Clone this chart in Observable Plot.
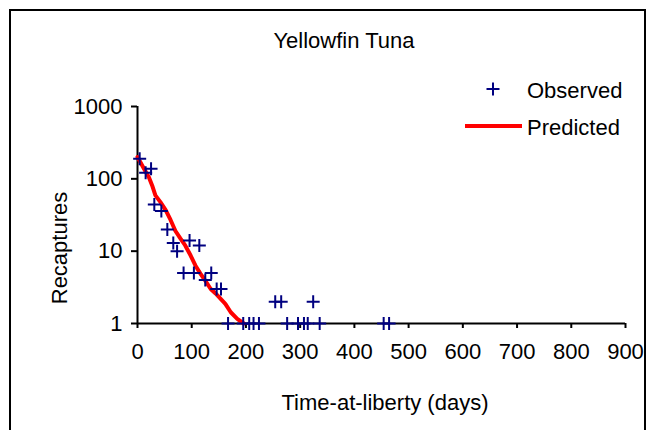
<!DOCTYPE html>
<html><head><meta charset="utf-8">
<script src="https://cdn.jsdelivr.net/npm/d3@7"></script>
<script src="https://cdn.jsdelivr.net/npm/@observablehq/plot@0.6"></script>
<style>
body{margin:0;background:#fff;}
#wrap{position:relative;width:647px;height:430px;overflow:hidden;}
#wrap svg{position:absolute;left:0;top:0;}
#frame{position:absolute;left:9px;top:9px;width:637px;height:440px;border:2px solid #000;box-sizing:border-box;pointer-events:none;}
</style></head><body>
<div id="wrap"><div id="frame"></div></div>
<script>
// Observed recaptures
const obsDays  = [4, 15, 25, 31, 44, 55, 66, 73, 96, 114, 85, 104, 125, 136, 146, 154,
                  167, 195, 206, 214, 224, 276, 296, 307, 314, 336, 454, 464,
                  254, 265, 324];
const obsCount = [190, 121, 138, 44, 36, 20, 13, 10, 14, 12, 5, 5, 4, 5, 3, 3,
                  1, 1, 1, 1, 1, 1, 1, 1, 1, 1, 1, 1,
                  2, 2, 2];
// Predicted recaptures
const predDays  = [0, 12, 21, 27, 33, 42, 52, 61, 70, 79, 88, 98, 107, 116, 125, 135, 144, 153, 162, 172, 184, 196];
const predCount = [200, 138, 105, 81, 59, 48, 37, 27, 19, 15, 12, 8.7, 6.3, 4.9, 3.9, 3.0, 2.6, 2.2, 1.87, 1.43, 1.16, 1.0];
// Axes
const xTicks = [0, 100, 200, 300, 400, 500, 600, 700, 800, 900];
const yTicks = [1, 10, 100, 1000];
const titleText = "Yellowfin Tuna";
const xLabel = "Time-at-liberty (days)";
const yLabel = "Recaptures";
const seriesNames = ["Observed", "Predicted"];

const obs = obsDays.map((d, i) => ({day: d, n: obsCount[i]}));
const pred = predDays.map((d, i) => ({day: d, n: predCount[i]}));

const FONT = "'Liberation Sans', Arial, sans-serif";
const FS = 22;
const NAVY = "#000080", RED = "#ff0000";

const cross = {
  draw(ctx, size) {
    const r = Math.sqrt(size / Math.PI);
    ctx.moveTo(-r, 0); ctx.lineTo(r, 0);
    ctx.moveTo(0, -r); ctx.lineTo(0, r);
  }
};

const chart = Plot.plot({
  width: 647, height: 430,
  marginLeft: 137, marginRight: 22, marginTop: 106, marginBottom: 107,
  style: {fontFamily: FONT, fontSize: FS + "px", color: "#000", background: "transparent", overflow: "visible"},
  x: {domain: [0, 900]},
  y: {type: "log", domain: [1, 1000]},
  marks: [
    Plot.axisX({ticks: xTicks, tickSize: 5, tickPadding: 15, strokeWidth: 2, label: null, tickFormat: d => String(d)}),
    Plot.axisY({ticks: yTicks, tickSize: 6, tickPadding: 9, strokeWidth: 2, label: null, tickFormat: d => String(d)}),
    Plot.ruleX([0], {stroke: "#000", strokeWidth: 2}),
    Plot.ruleY([1], {x1: 0, x2: 900, stroke: "#000", strokeWidth: 2}),
    Plot.line(pred, {x: "day", y: "n", stroke: RED, strokeWidth: 4}),
    Plot.dot(obs, {x: "day", y: "n", symbol: cross, r: 6.5, stroke: NAVY, strokeWidth: 2, fill: "none"})
  ]
});
document.getElementById("wrap").insertBefore(chart, document.getElementById("frame"));

const svg = d3.select(chart);
const g = svg.append("g").attr("font-family", FONT).attr("font-size", FS).attr("fill", "#000").attr("text-anchor", "start");
g.append("text").attr("x", 344).attr("y", 47.5).attr("text-anchor", "middle").text(titleText);
g.append("text").attr("x", 385).attr("y", 410).attr("text-anchor", "middle").text(xLabel);
g.append("text").attr("transform", "translate(67,248) rotate(-90)").attr("text-anchor", "middle").text(yLabel);
// legend
g.append("path").attr("d", "M486.5,89H499.5M493,82.5V95.5").attr("stroke", NAVY).attr("stroke-width", 2).attr("fill", "none");
g.append("text").attr("x", 527).attr("y", 98).attr("text-anchor", "start").text(seriesNames[0]);
g.append("line").attr("x1", 465).attr("x2", 522).attr("y1", 126).attr("y2", 126).attr("stroke", RED).attr("stroke-width", 4);
g.append("text").attr("x", 527).attr("y", 135).attr("text-anchor", "start").text(seriesNames[1]);
</script>
</body></html>
